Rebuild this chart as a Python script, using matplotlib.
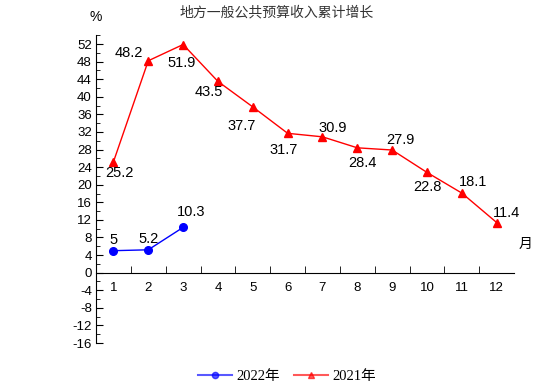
import matplotlib.pyplot as plt
from matplotlib.ticker import MultipleLocator, FixedLocator
from matplotlib.lines import Line2D

plt.rcParams['font.family'] = ['Liberation Sans', 'Noto Sans CJK SC']
plt.rcParams['axes.unicode_minus'] = False

months = list(range(1, 13))
month_labels = [str(m) for m in months]
growth_2022 = [5, 5.2, 10.3]
growth_2021 = [25.2, 48.2, 51.9, 43.5, 37.7, 31.7, 30.9, 28.4, 27.9, 22.8, 18.1, 11.4]
label_2022 = ['5', '5.2', '10.3']
label_2021 = ['25.2', '48.2', '51.9', '43.5', '37.7', '31.7', '30.9', '28.4', '27.9', '22.8', '18.1', '11.4']

# label offsets in pixels (dx, dy)
off_2021 = [(6, -11), (-19, 8), (-1, -18), (-9, -11), (-11, -19), (-4, -17),
            (10, 9), (5, -15), (8, 10), (0, -15), (11, 11), (10, 10)]
off_2022 = [(0, 11), (0, 11), (8, 15)]

fig = plt.figure(figsize=(5.54, 3.92), dpi=100)
ax = fig.add_axes([0.1733, 0.125, 0.7547, 0.785])

ax.plot(months[:len(growth_2022)], growth_2022, color='#0000FF', lw=1,
        marker='o', ms=5.5, zorder=3)
ax.plot(months, growth_2021, color='#FF0000', lw=1,
        marker='^', ms=6, zorder=3)

for x, y, t, o in zip(months, growth_2021, label_2021, off_2021):
    ax.annotate(t, (x, y), xytext=o, textcoords='offset pixels',
                ha='center', va='center', fontsize=10.5)
for x, y, t, o in zip(months, growth_2022, label_2022, off_2022):
    ax.annotate(t, (x, y), xytext=o, textcoords='offset pixels',
                ha='center', va='center', fontsize=10.5)

ax.set_xlim(0.5, 12.5)
ax.set_ylim(-16, 54)

ax.spines['right'].set_color('none')
ax.spines['top'].set_color('none')
ax.spines['bottom'].set_position(('data', 0))
ax.spines['left'].set_bounds(-16, 54)

ax.yaxis.set_major_locator(FixedLocator(range(-16, 53, 4)))
ax.yaxis.set_minor_locator(MultipleLocator(2))
ax.tick_params(axis='y', which='both', direction='in', labelsize=9.5, pad=3)
ax.tick_params(axis='y', which='major', length=5)
ax.tick_params(axis='y', which='minor', length=3)

ax.set_xticks(months)
ax.set_xticklabels(month_labels)
ax.set_xticks([m + 0.5 for m in months[:-1]], minor=True)
ax.tick_params(axis='x', which='major', length=0, labelsize=9.5, pad=7)
ax.tick_params(axis='x', which='minor', direction='in', length=5)

ax.text(0.5, 56.5, '%', ha='center', va='bottom', fontsize=10)
ax.text(12.82, 6.5, '月', ha='center', va='center', fontsize=10,
        family=['Noto Sans CJK SC'])

fig.text(0.5, 0.968, '地方一般公共预算收入累计增长', ha='center', va='center',
         fontsize=10, color='#333333', family=['Noto Sans CJK SC'])

h1 = Line2D([], [], color='#0000FF', alpha=0.65, lw=1.5, marker='o', ms=4.5,
            markerfacecolor='#0000FF', markeredgecolor='#0000FF')
h2 = Line2D([], [], color='#FF0000', alpha=0.65, lw=1.5, marker='^', ms=5,
            markerfacecolor='#FF0000', markeredgecolor='#FF0000')
fig.legend(handles=[h1, h2], labels=['2022年', '2021年'], loc='center',
           bbox_to_anchor=(0.518, 0.04), ncol=2, frameon=False,
           handlelength=2.3, handletextpad=0.3, columnspacing=1.0,
           prop={'family': ['Liberation Serif', 'Noto Sans CJK SC'], 'size': 10.5})

fig.savefig('out.png', dpi=100)
